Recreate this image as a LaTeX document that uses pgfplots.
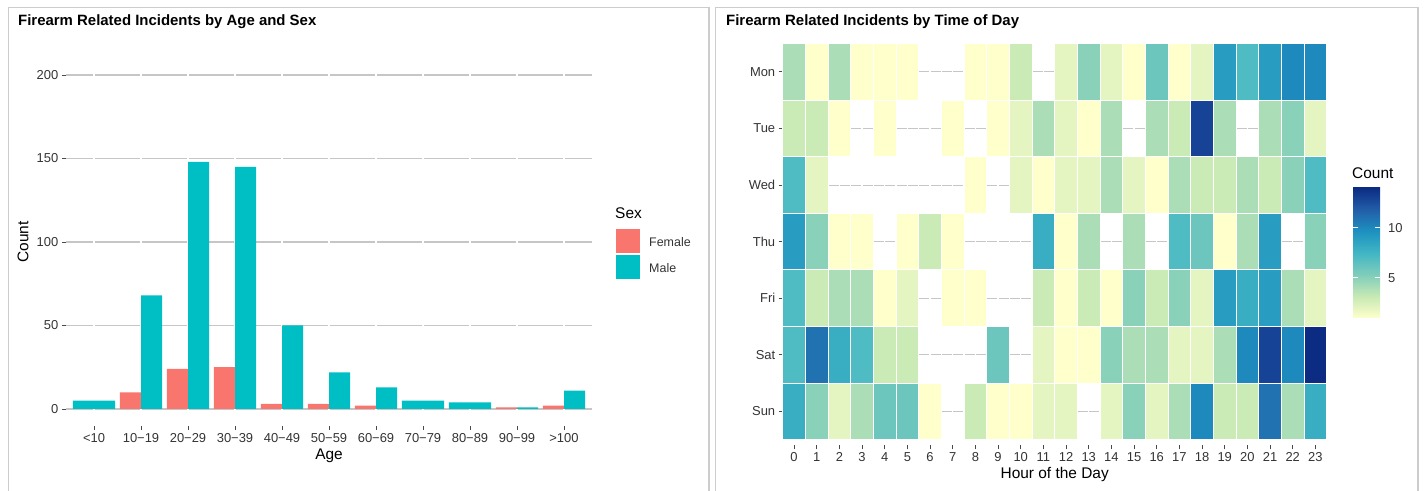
\documentclass[border=0pt]{standalone}
\usepackage{pgfplots}
\pgfplotsset{compat=1.18}
\usepackage{fontspec}
\setmainfont{Liberation Sans}

\definecolor{fem}{HTML}{F8766D}
\definecolor{mal}{HTML}{00BFC4}
\definecolor{gridc}{HTML}{C6C6C6}
\definecolor{framec}{HTML}{CCCCCC}
\definecolor{txt}{HTML}{333333}
\definecolor{tk}{HTML}{4A4A4A}
\definecolor{c1}{HTML}{FFFFCC}
\definecolor{c2}{HTML}{C7E9B4}
\definecolor{c3}{HTML}{7FCDBB}
\definecolor{c4}{HTML}{41B6C4}
\definecolor{c5}{HTML}{1D91C0}
\definecolor{c6}{HTML}{225EA8}
\definecolor{c7}{HTML}{0C2C84}

\pgfdeclareverticalshading{ylgnbu}{100bp}{color(0bp)=(c1); color(25bp)=(c1);
  color(33.33bp)=(c2); color(41.67bp)=(c3); color(50bp)=(c4); color(58.33bp)=(c5);
  color(66.67bp)=(c6); color(75bp)=(c7); color(100bp)=(c7)}

% one heatmap cell: 1 hour wide, 1 day high
\pgfdeclareplotmark{tile}{%
  \pgfpathrectangle{\pgfpoint{-11.33bp}{-28.28bp}}{\pgfpoint{22.67bp}{56.57bp}}%
  \pgfusepathqfillstroke}

\pgfplotsset{
  colormap={ylgnbu}{rgb255=(255,255,204) rgb255=(199,233,180) rgb255=(127,205,187)
    rgb255=(65,182,196) rgb255=(29,145,192) rgb255=(34,94,168) rgb255=(12,44,132)},
  gg/.style={
    scale only axis, anchor=south west,
    axis line style={draw=none},
    tick align=outside, major tick length=4bp,
    xtick pos=left, ytick pos=left,
    tick style={tk, line width=0.9bp},
    ymajorgrids, major grid style={gridc, line width=1.1bp},
    ticklabel style={font=\fontsize{13}{15}\selectfont, text=txt},
    label style={font=\fontsize{15.5}{18}\selectfont},
    /pgf/number format/assume math mode=true,
  },
}

\pgfplotstableread{
x y c
0 0 4
1 0 1
2 0 4
3 0 1
4 0 1
5 0 1
8 0 1
9 0 1
10 0 3
12 0 2
13 0 5
14 0 2
15 0 1
16 0 6
17 0 1
18 0 2
19 0 9
20 0 7
21 0 9
22 0 10
23 0 10
0 1 3
1 1 3
2 1 1
4 1 1
7 1 1
9 1 1
10 1 2
11 1 4
12 1 2
13 1 1
14 1 4
16 1 4
17 1 3
18 1 13
19 1 4
21 1 4
22 1 5
23 1 2
0 2 7
1 2 2
8 2 1
10 2 2
11 2 1
12 2 2
13 2 2
14 2 4
15 2 2
16 2 1
17 2 4
18 2 3
19 2 3
20 2 4
21 2 3
22 2 5
23 2 7
0 3 9
1 3 5
2 3 1
3 3 1
5 3 1
6 3 3
7 3 1
11 3 8
12 3 1
13 3 4
15 3 4
17 3 7
18 3 6
19 3 1
20 3 4
21 3 9
23 3 5
0 4 7
1 4 3
2 4 4
3 4 4
4 4 1
5 4 2
7 4 1
8 4 1
11 4 3
12 4 1
13 4 3
14 4 1
15 4 5
16 4 3
17 4 5
18 4 2
19 4 9
20 4 8
21 4 9
22 4 4
23 4 2
0 5 7
1 5 11
2 5 8
3 5 7
4 5 3
5 5 3
9 5 6
11 5 2
12 5 1
13 5 1
14 5 5
15 5 4
16 5 4
17 5 2
18 5 2
19 5 4
20 5 10
21 5 13
22 5 10
23 5 14
0 6 8
1 6 5
2 6 2
3 6 4
4 6 6
5 6 6
6 6 1
8 6 3
9 6 1
10 6 1
11 6 2
12 6 2
14 6 2
15 6 5
16 6 2
17 6 4
18 6 10
19 6 3
20 6 3
21 6 11
22 6 4
23 6 8
}\hourdata

\begin{document}
\begin{tikzpicture}[x=1bp, y=1bp]
\path[use as bounding box] (0,0) rectangle (1424,491);

% panel frames
\draw[framec, line width=1.3bp] (8.5,-5) -- (8.5,483.5) -- (709,483.5) -- (709,-5);
\draw[framec, line width=1.3bp] (715.5,-5) -- (715.5,483.5) -- (1418,483.5) -- (1418,-5);

% titles
\node[anchor=base west, inner sep=0, font=\bfseries\fontsize{15}{18}\selectfont] at (18,465) {Firearm Related Incidents by Age and Sex};
\node[anchor=base west, inner sep=0, font=\bfseries\fontsize{15}{18}\selectfont] at (726,465) {Firearm Related Incidents by Time of Day};

% ---- left: bars by age and sex
\begin{axis}[gg,
  at={(65.8bp,65.3bp)}, width=526.4bp, height=367.4bp,
  xmin=0.4, xmax=11.6, ymin=-10, ymax=210,
  ytick={0,50,100,150,200},
  xtick={1,...,11},
  xticklabels={<10,10−19,20−29,30−39,40−49,50−59,60−69,70−79,80−89,90−99,>100},
  xlabel={Age}, ylabel={Count},
  xlabel style={at={(axis description cs:0.5,-0.081)}, anchor=center},
  ylabel style={at={(axis description cs:-0.0813,0.5)}, anchor=center},
]
\pgfplotsinvokeforeach{1,...,11}{\draw[white, line width=1.3bp] (axis cs:#1,-10) -- (axis cs:#1,210);}
\addplot[ybar, bar width=0.45, bar shift=0pt, fill=fem, draw=none]
  coordinates {(1.775,10)(2.775,24)(3.775,25)(4.775,3)(5.775,3)(6.775,2)(9.775,1)(10.775,2)};
\addplot[ybar, bar width=0.45, bar shift=0pt, fill=mal, draw=none]
  coordinates {(2.225,68)(3.225,148)(4.225,145)(5.225,50)(6.225,22)(7.225,13)(10.225,1)(11.225,11)};
\addplot[ybar, bar width=0.9, bar shift=0pt, fill=mal, draw=none]
  coordinates {(1,5)(8,5)(9,4)};
\end{axis}

% legend for sex
\node[anchor=west, inner sep=0, font=\fontsize{15.5}{18}\selectfont] at (615,278) {Sex};
\fill[fem] (616,238) rectangle (640,262);
\fill[mal] (616,212) rectangle (640,236);
\node[anchor=west, inner sep=0, font=\fontsize{12.5}{15}\selectfont, text=txt] at (649,249) {Female};
\node[anchor=west, inner sep=0, font=\fontsize{12.5}{15}\selectfont, text=txt] at (649,223) {Male};

% ---- right: heatmap by hour and weekday
\begin{axis}[gg,
  at={(782.7bp,45.7bp)}, width=544bp, height=407.3bp,
  xmin=-0.5, xmax=23.5, ymin=-0.6, ymax=6.6, y dir=reverse,
  xtick={0,...,23}, ytick={0,...,6},
  yticklabels={Mon,Tue,Wed,Thu,Fri,Sat,Sun},
  xlabel={Hour of the Day},
  xlabel style={at={(axis description cs:0.5,-0.0717)}, anchor=center},
  colormap name=ylgnbu, point meta min=1, point meta max=14,
]
\pgfplotsinvokeforeach{-0.5,0,...,23.5}{\draw[white, line width=1.2bp] (axis cs:#1,-0.6) -- (axis cs:#1,6.6);}
\addplot[scatter, only marks, mark=tile, point meta=explicit,
  scatter/use mapped color={draw=white, fill=mapped color, line width=1bp}]
  table[x=x, y=y, meta=c] {\hourdata};
\end{axis}

% colour bar
\node[anchor=west, inner sep=0, font=\fontsize{15.5}{18}\selectfont] at (1352,318) {Count};
\shade[shading=ylgnbu] (1353,173) rectangle (1380,303);
\draw[white, line width=1bp] (1353,213) -- (1358.4,213) (1374.6,213) -- (1380,213)
  (1353,263) -- (1358.4,263) (1374.6,263) -- (1380,263);
\node[anchor=west, inner sep=0, font=\fontsize{13}{15}\selectfont, text=txt] at (1388,213) {5};
\node[anchor=west, inner sep=0, font=\fontsize{13}{15}\selectfont, text=txt] at (1388,263) {10};
\end{tikzpicture}
\end{document}
